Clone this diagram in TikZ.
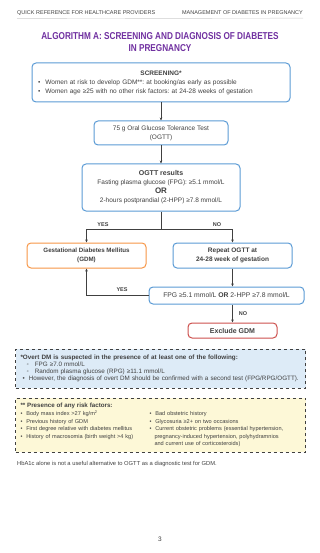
\documentclass[tikz,border=0pt]{standalone}
\usepackage{fontspec}
\setmainfont{Liberation Sans}
\newfontfamily\narrowfont[FakeStretch=0.82]{Liberation Sans}
\usetikzlibrary{arrows.meta,positioning}
\frenchspacing
\definecolor{algpurple}{RGB}{112,48,160}
\definecolor{boxblue}{RGB}{91,155,213}
\definecolor{boxorange}{RGB}{247,150,70}
\definecolor{boxred}{RGB}{205,80,77}
\definecolor{textgray}{RGB}{64,64,64}
\definecolor{noteblue}{RGB}{221,235,247}
\definecolor{noteyellow}{RGB}{253,248,215}
\tikzset{
  header/.style={font=\fontsize{5.5}{6}\selectfont, text=textgray, inner sep=0pt},
  algtitle/.style={font=\narrowfont\bfseries\fontsize{10}{12}\selectfont, text=algpurple, align=center},
  flowbox/.style={draw=boxblue, line width=1pt, rounded corners=4pt, fill=white,
    align=center, text=textgray, font=\fontsize{6.5}{9}\selectfont, inner sep=2pt},
  notebox/.style={draw=textgray, dashed, line width=0.5pt, text=textgray, align=left,
    minimum width=287pt, inner sep=5pt},
  link/.style={-{Stealth[length=3pt,width=2.6pt]}, draw=textgray, line width=0.8pt},
  branch/.style={font=\bfseries\fontsize{5.5}{6}\selectfont, text=textgray},
}
\begin{document}
\begin{tikzpicture}[x=1pt,y=-1pt]
  \useasboundingbox (0,0) rectangle (320,553);
  % page header
  \node[header, anchor=west] (hleft) at (17,13) {QUICK REFERENCE FOR HEALTHCARE PROVIDERS};
  \node[header, anchor=east] (hright) at (303,13) {MANAGEMENT OF DIABETES IN PREGNANCY};
  \draw[gray!40, line width=0.4pt] ([yshift=-3pt]hleft.south west) -- ([yshift=-3pt]hright.south east);
  \node[algtitle] (title) at (160,42) {ALGORITHM A: SCREENING AND DIAGNOSIS OF DIABETES\\IN PREGNANCY};
  % flow boxes
  \node[flowbox, align=left, minimum width=258pt, minimum height=39pt, text width=246pt] (screen) at (161,82.5)
    {\makebox[\linewidth]{\bfseries SCREENING*}\\
     \textbullet\hspace{3pt} Women at risk to develop GDM**: at booking/as early as possible\\
     \textbullet\hspace{3pt} Women age ≥25 with no other risk factors: at 24-28 weeks of gestation};
  \node[flowbox, minimum width=134pt, minimum height=24pt] (ogtt) at (161,133)
    {75 g Oral Glucose Tolerance Test\\(OGTT)};
  \node[flowbox, minimum width=158pt, minimum height=47pt] (results) at (161,187.5)
    {{\bfseries\fontsize{7}{9}\selectfont OGTT results}\\
     Fasting plasma glucose (FPG): ≥5.1 mmol/L\\
     {\bfseries\fontsize{8}{9}\selectfont OR}\\
     2-hours postprandial (2-HPP) ≥7.8 mmol/L};
  \node[flowbox, draw=boxorange, font=\bfseries\fontsize{6.2}{8.5}\selectfont, minimum width=119pt, minimum height=25pt] (gdm) at (86.5,255.5)
    {Gestational Diabetes Mellitus\\(GDM)};
  \node[flowbox, font=\bfseries\fontsize{6.5}{9}\selectfont, minimum width=119pt, minimum height=25pt] (repeat) at (232.5,255.5)
    {Repeat OGTT at\\24-28 week of gestation};
  \node[flowbox, minimum width=155pt, minimum height=17pt, font=\fontsize{6.8}{8}\selectfont] (fpg) at (226.5,295.5)
    {FPG ≥5.1 mmol/L \textbf{OR} 2-HPP ≥7.8 mmol/L};
  \node[flowbox, draw=boxred, font=\bfseries\fontsize{7}{8}\selectfont, minimum width=89pt, minimum height=15pt] (exclude) at (232.5,330.5)
    {Exclude GDM};
  % connectors
  \coordinate (split) at (161,229);
  \draw[link] (screen) -- (ogtt);
  \draw[link] (ogtt) -- (results);
  \draw[textgray, line width=0.8pt] (results.south) -- (split);
  \draw[link] (split) -| (gdm.north);
  \draw[link] (split) -| (repeat.north);
  \draw[link] (repeat.south) -- (repeat.south |- fpg.north);
  \draw[link] (fpg.west) -| (gdm.south);
  \draw[link] (exclude.north |- fpg.south) -- (exclude.north);
  \node[branch] (yes1) at (103,225) {YES};
  \node[branch] (no1) at (217,225) {NO};
  \node[branch] (yes2) at (122,290) {YES};
  \node[branch] (no2) at (243,314) {NO};
  % notes
  \node[notebox, fill=noteblue, minimum height=39pt, text width=280pt, font=\fontsize{6.3}{7.2}\selectfont] (overt) at (160.5,368.5)
    {{\bfseries *Overt DM is suspected in the presence of at least one of the following:}\\
     \hspace*{6pt}\textopenbullet\hspace{4pt} FPG ≥7.0 mmol/L\\
     \hspace*{6pt}\textopenbullet\hspace{4pt} Random plasma glucose (RPG) ≥11.1 mmol/L\\
     \hspace*{2pt}\textbullet\hspace{2pt} However, the diagnosis of overt DM should be confirmed with a second test (FPG/RPG/OGTT).};
  \node[notebox, fill=noteyellow, minimum height=54pt, text width=280pt, font=\fontsize{5.6}{7.5}\selectfont] (risk) at (160.5,425)
    {{\bfseries\fontsize{6.2}{8}\selectfont ** Presence of any risk factors:}\\[1pt]
     \parbox[t]{129pt}{\raggedright
       \textbullet\hspace{2pt} Body mass index >27 kg/m\textsuperscript{2}\\
       \textbullet\hspace{2pt} Previous history of GDM\\
       \textbullet\hspace{2pt} First degree relative with diabetes mellitus\\
       \textbullet\hspace{2pt} History of macrosomia (birth weight >4 kg)}%
     \parbox[t]{151pt}{\raggedright
       \textbullet\hspace{2pt} Bad obstetric history\\
       \textbullet\hspace{2pt} Glycosuria ≥2+ on two occasions\\
       \textbullet\hspace{2pt} Current obstetric problems (essential hypertension,\\
       \hspace*{5pt}pregnancy-induced hypertension, polyhydramnios\\
       \hspace*{5pt}and current use of corticosteroids)}};
  \node[anchor=west, inner sep=0pt, text=textgray, font=\fontsize{5.8}{7}\selectfont] (hba) at (17,464)
    {HbA1c alone is not a useful alternative to OGTT as a diagnostic test for GDM.};
  \node[text=textgray, font=\fontsize{6.5}{8}\selectfont] (page) at (160,539) {3};
\end{tikzpicture}
\end{document}
